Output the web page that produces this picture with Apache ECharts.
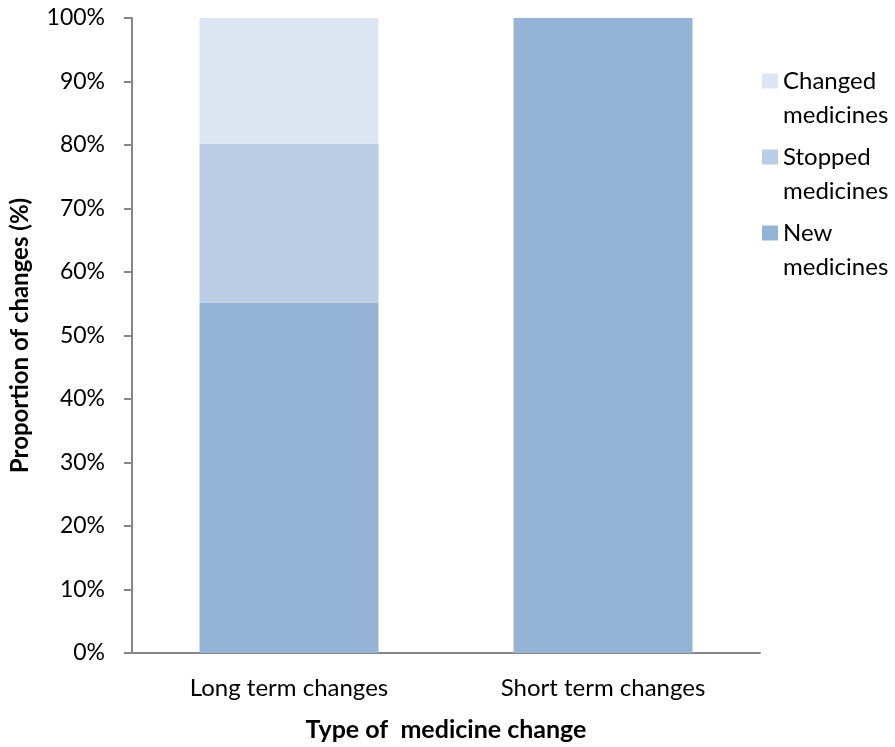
<!DOCTYPE html>
<html>
<head>
<meta charset="utf-8">
<script src="https://cdn.jsdelivr.net/npm/echarts@6/dist/echarts.min.js"></script>
<style>
  html, body { margin: 0; padding: 0; background: #fff; overflow: hidden; }
  #chart { width: 895px; height: 747px; }
</style>
</head>
<body>
<div id="chart"></div>
<script>
// Categories along the horizontal axis
const categories = ['Long term changes', 'Short term changes'];
// Share of each change type per category (%)
const newMedicines = [55.2, 100];
const stoppedMedicines = [25.0, 0];
const changedMedicines = [19.8, 0];
// Legend entries, top to bottom
const legendNames = ['Changed medicines', 'Stopped medicines', 'New medicines'];

const FONT = 'Lato, "Open Sans", sans-serif';

const chart = echarts.init(document.getElementById('chart'), null, { renderer: 'canvas' });

chart.setOption({
  animation: false,
  textStyle: { fontFamily: FONT },
  grid: { left: 130, top: 18, width: 630, height: 639, containLabel: false },
  legend: {
    data: legendNames,
    orient: 'vertical',
    left: 762,
    top: 30,
    padding: 0,
    itemWidth: 16,
    itemHeight: 15,
    itemGap: -26,
    icon: 'rect',
    textStyle: { fontFamily: FONT, fontSize: 24, color: '#000', lineHeight: 34 },
    // a blank leading line keeps the first word level with the colour square
    formatter: name => '\u00a0\n' + name.replace(' ', '\n')
  },
  xAxis: {
    type: 'category',
    data: categories,
    name: 'Type of  medicine change',
    nameLocation: 'middle',
    nameGap: 64,
    nameTextStyle: { fontFamily: FONT, fontSize: 25, fontWeight: 'bold', color: '#000' },
    axisLine: { lineStyle: { color: '#868686', width: 2 } },
    axisTick: { show: false },
    axisLabel: { fontFamily: FONT, fontSize: 24, color: '#000', margin: 23 }
  },
  yAxis: {
    type: 'value',
    min: 0,
    max: 100,
    interval: 10,
    name: 'Proportion of changes (%)',
    nameLocation: 'middle',
    nameGap: 100,
    nameRotate: 90,
    nameTextStyle: { fontFamily: FONT, fontSize: 24, fontWeight: 'bold', color: '#000' },
    axisLine: { show: true, lineStyle: { color: '#868686', width: 2 } },
    axisTick: { show: true, length: 8, lineStyle: { color: '#868686', width: 2 } },
    splitLine: { show: false },
    axisLabel: { fontFamily: FONT, fontSize: 23, color: '#000', margin: 27, formatter: '{value}%' }
  },
  series: [
    {
      name: 'New medicines', type: 'bar', stack: 'total', barWidth: '57%',
      itemStyle: { color: '#95b3d7' }, data: newMedicines
    },
    {
      name: 'Stopped medicines', type: 'bar', stack: 'total',
      itemStyle: { color: '#b9cde5' }, data: stoppedMedicines
    },
    {
      name: 'Changed medicines', type: 'bar', stack: 'total',
      itemStyle: { color: '#dce6f2' }, data: changedMedicines
    }
  ]
});
</script>
</body>
</html>
